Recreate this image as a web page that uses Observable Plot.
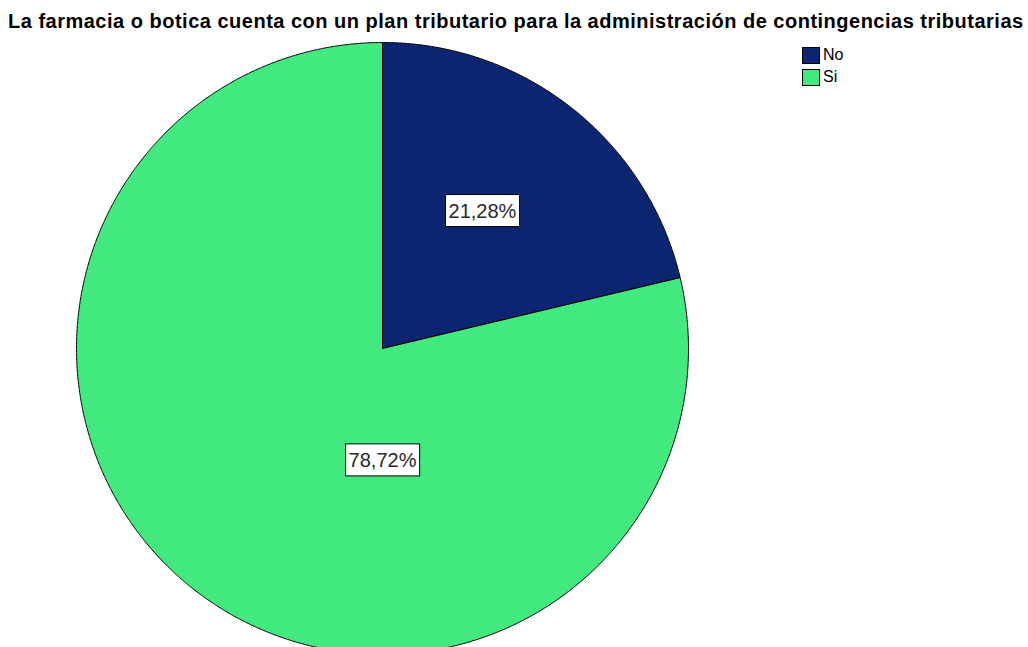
<!DOCTYPE html>
<html>
<head>
<meta charset="utf-8">
<script src="https://cdn.jsdelivr.net/npm/d3@7"></script>
<script src="https://cdn.jsdelivr.net/npm/@observablehq/plot@0.6"></script>
<style>
  html, body { margin: 0; padding: 0; background: #fff; }
  #wrap { position: relative; width: 1028px; height: 647px; overflow: hidden; font-family: "Liberation Sans", Arial, sans-serif; }
  #title { position: absolute; left: 8px; top: 10px; font-weight: bold; font-size: 20px; letter-spacing: 0.5px; color: #000; white-space: nowrap; line-height: 22px; }
  #legend { position: absolute; left: 802px; top: 44px; font-size: 16px; color: #000; }
  .item { display: flex; align-items: center; height: 22px; }
  .sw { width: 16px; height: 15px; border: 1px solid #000; margin-right: 3px; box-sizing: content-box; }
  .item span { font-size: 16px; }
  #chart { position: absolute; left: 0; top: 0; }
</style>
</head>
<body>
<div id="wrap">
  <div id="chart"></div>
  <div id="title"></div>
  <div id="legend"></div>
</div>
<script>
const titleText = "La farmacia o botica cuenta con un plan tributario para la administración de contingencias tributarias";
const categories = ["No", "Si"];
const percentages = [21.28, 78.72];
const labels = ["21,28%", "78,72%"];
const colors = ["#0b2570", "#41e97e"];

document.getElementById("title").textContent = titleText;
const legend = document.getElementById("legend");
categories.forEach((c, i) => {
  const it = document.createElement("div");
  it.className = "item";
  it.innerHTML = `<div class="sw" style="background:${colors[i]}"></div><span>${c}</span>`;
  legend.appendChild(it);
});

// pie geometry (angles clockwise from 12 o'clock)
const arcs = d3.pie().sort(null).value(d => d)(percentages);
const pts = [];
arcs.forEach((a, i) => {
  const cat = categories[i];
  pts.push({cat, x: 0, y: 0});
  const n = Math.max(8, Math.ceil((a.endAngle - a.startAngle) / (Math.PI / 720)));
  for (let k = 0; k <= n; k++) {
    const t = a.startAngle + (a.endAngle - a.startAngle) * k / n;
    pts.push({cat, x: Math.sin(t), y: Math.cos(t)});
  }
  pts.push({cat, x: 0, y: 0});
});

// label positions (unit-circle coords): SPSS-style placement
const labelPos = arcs.map((a, i) => {
  if (i === 0) {
    const m = (a.startAngle + a.endAngle) / 2;
    return {text: labels[i], x: 0.527 * Math.sin(m), y: 0.572 * Math.cos(m)};
  }
  return {text: labels[i], x: 0, y: -0.366};
});

const cx = 382, cy = 348, r = 306;
const plot = Plot.plot({
  width: 1028,
  height: 647,
  margin: 0,
  x: {domain: [-1, 1], range: [cx - r, cx + r], axis: null},
  y: {domain: [-1, 1], range: [cy + r, cy - r], axis: null},
  color: {domain: categories, range: colors},
  style: {background: "white", overflow: "hidden"},
  marks: [
    Plot.line(pts, {x: "x", y: "y", z: "cat", fill: "cat", stroke: "#000", strokeWidth: 1, curve: "linear", strokeLinejoin: "round"}),
    Plot.text(labelPos, {x: "x", y: "y", text: "text", fontSize: 20, fill: "#2a2a2a", fontFamily: "Liberation Sans, Arial, sans-serif", className: "pct"})
  ]
});
document.getElementById("chart").appendChild(plot);

// white boxes behind percentage labels
const svg = d3.select(plot);
svg.selectAll("g.pct text").each(function() {
  const b = this.getBBox();
  const padX = 3;
  const midY = b.y + b.height / 2;
  const rect = d3.select(this.parentNode).insert("rect", () => this)
    .attr("x", b.x - padX).attr("y", midY - 16)
    .attr("width", b.width + 2 * padX).attr("height", 32)
    .attr("fill", "#fff").attr("stroke", "#000").attr("stroke-width", 1);
  const tr = this.getAttribute("transform");
  if (tr) rect.attr("transform", tr);
});
</script>
</body>
</html>
